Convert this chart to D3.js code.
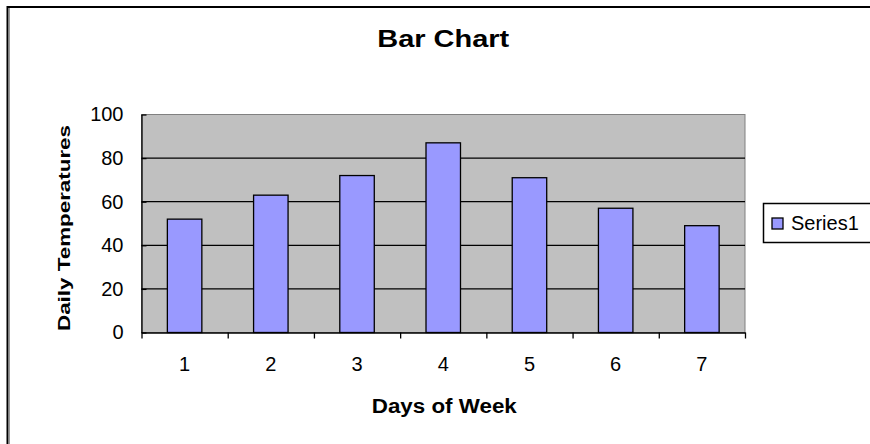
<!DOCTYPE html>
<meta charset="utf-8">
<head>
    <title>Bar Chart</title>
    <script src="https://cdn.jsdelivr.net/npm/d3@7"></script>
</head>

<style>
    body { margin: 0; background: #fff; }
    svg { display: block; font-family: "Liberation Sans", Arial, sans-serif; }
    .bar { fill: #9999FF; stroke: #000; stroke-width: 1.3; }
    .grid line { stroke: #000; stroke-width: 1.3; }
    .axis path, .axis line { stroke: #000; stroke-width: 1.3; }
    .axis text { font-size: 20px; fill: #000; }
</style>

<svg></svg>

<script>
    // chart data
    var days = ["1", "2", "3", "4", "5", "6", "7"];
    var temps = [52, 63, 72, 87, 71, 57, 49];
    var yTicks = [0, 20, 40, 60, 80, 100];
    var seriesName = "Series1";

    var vWidth = 870;
    var vHeight = 444;
    var plotLeft = 141.5, plotRight = 745, plotTop = 114.5, plotBottom = 332.5;

    var svg = d3.select('svg')
        .attr('width', vWidth)
        .attr('height', vHeight);

    // outer frame (only top and left edges fall inside the picture)
    svg.append('rect')
        .attr('x', 7.5).attr('y', 7)
        .attr('width', 900).attr('height', 500)
        .attr('fill', 'none')
        .attr('stroke', '#000')
        .attr('stroke-width', 2);
    svg.append('line')
        .attr('x1', 9.5).attr('x2', 9.5).attr('y1', 8).attr('y2', vHeight)
        .attr('stroke', '#999').attr('stroke-width', 1);

    var x = d3.scaleBand()
        .domain(days)
        .range([plotLeft, plotRight])
        .paddingInner(0.6)
        .paddingOuter(0.3);

    var xEdges = d3.scaleLinear()
        .domain([0, days.length])
        .range([plotLeft, plotRight]);

    var y = d3.scaleLinear()
        .domain([0, 100])
        .range([plotBottom, plotTop]);

    // plot area
    svg.append('rect')
        .attr('x', plotLeft).attr('y', plotTop)
        .attr('width', plotRight - plotLeft).attr('height', plotBottom - plotTop)
        .attr('fill', '#C0C0C0')
        .attr('stroke', '#808080')
        .attr('stroke-width', 1);

    // gridlines
    svg.append('g').attr('class', 'grid')
        .selectAll('line').data(yTicks.filter(function (d) { return d > 0 && d < 100; }))
        .enter().append('line')
        .attr('x1', plotLeft).attr('x2', plotRight)
        .attr('y1', function (d) { return y(d); })
        .attr('y2', function (d) { return y(d); });

    // bars
    svg.append('g')
        .selectAll('rect').data(temps).enter().append('rect')
        .attr('class', 'bar')
        .attr('x', function (d, i) { return x(days[i]); })
        .attr('width', x.bandwidth())
        .attr('y', function (d) { return y(d); })
        .attr('height', function (d) { return plotBottom - y(d); });

    // y axis
    var yAxis = svg.append('g').attr('class', 'axis')
        .attr('transform', 'translate(' + plotLeft + ',0)')
        .call(d3.axisLeft(y).tickValues(yTicks).tickSize(6).tickSizeOuter(0).tickPadding(12));
    yAxis.selectAll('.tick line').attr('x2', 5);

    // x axis: ticks on category edges, labels at centres
    svg.append('g').attr('class', 'axis')
        .attr('transform', 'translate(0,' + plotBottom + ')')
        .call(d3.axisBottom(xEdges).tickValues(d3.range(days.length + 1)).tickFormat('').tickSize(6).tickSizeOuter(0));
    var xLab = svg.append('g').attr('class', 'axis')
        .attr('transform', 'translate(0,' + plotBottom + ')')
        .call(d3.axisBottom(x).tickSize(0).tickPadding(24));
    xLab.select('.domain').remove();

    // titles
    svg.append('text')
        .attr('x', (plotLeft + plotRight) / 2).attr('y', 47)
        .attr('text-anchor', 'middle')
        .attr('font-size', 24).attr('font-weight', 'bold')
        .attr('textLength', 132).attr('lengthAdjust', 'spacingAndGlyphs')
        .text('Bar Chart');

    svg.append('text')
        .attr('x', (plotLeft + plotRight) / 2 + 1).attr('y', 413)
        .attr('text-anchor', 'middle')
        .attr('font-size', 20).attr('font-weight', 'bold')
        .attr('textLength', 145).attr('lengthAdjust', 'spacingAndGlyphs')
        .text('Days of Week');

    svg.append('text')
        .attr('transform', 'translate(70,228) rotate(-90)')
        .attr('text-anchor', 'middle')
        .attr('font-size', 17).attr('font-weight', 'bold')
        .attr('textLength', 206).attr('lengthAdjust', 'spacingAndGlyphs')
        .text('Daily Temperatures');

    // legend
    var legend = svg.append('g');
    legend.append('rect')
        .attr('x', 763.5).attr('y', 203.5)
        .attr('width', 140).attr('height', 39)
        .attr('fill', '#fff').attr('stroke', '#000').attr('stroke-width', 1.5);
    legend.append('rect')
        .attr('class', 'bar')
        .attr('x', 772).attr('y', 218)
        .attr('width', 11).attr('height', 11);
    legend.append('text')
        .attr('x', 791).attr('y', 230)
        .attr('font-size', 20)
        .text(seriesName);
</script>
